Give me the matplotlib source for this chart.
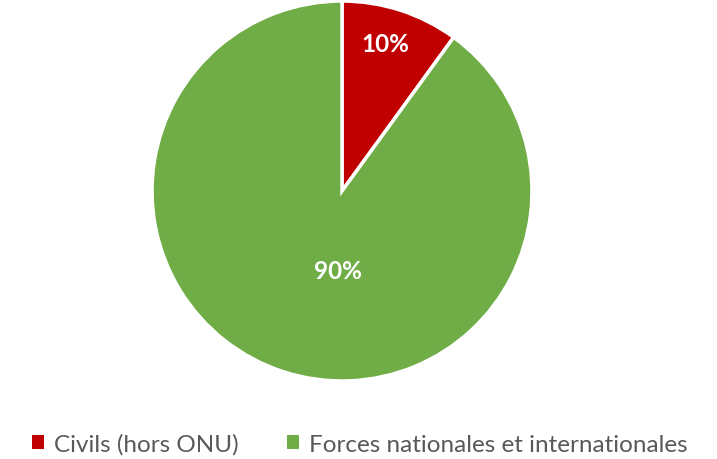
import matplotlib.pyplot as plt
from matplotlib.patches import Patch

plt.rcParams['font.family'] = ['Lato', 'DejaVu Sans']

categories = ['Civils (hors ONU)', 'Forces nationales et internationales']
values = [10, 90]
colors = ['#C00000', '#70AD47']

fig = plt.figure(figsize=(7.17, 4.6), dpi=100)
ax = fig.add_axes([0.212, 0.1696, 0.530, 0.826])

wedges, texts, autotexts = ax.pie(values, colors=colors, startangle=90, counterclock=False,
                                  autopct='%1.0f%%', pctdistance=0.6,
                                  wedgeprops=dict(edgecolor='white', linewidth=2.5),
                                  textprops=dict(color='white', fontsize=17.5, fontweight='bold'))
ax.set_xlim(-1, 1)
ax.set_ylim(-1, 1)
ax.set_aspect('equal')
# position percentages like the original
autotexts[0].set_position((0.226, 0.774))
autotexts[1].set_position((-0.02, -0.42))

handles = [Patch(facecolor=c, edgecolor='none') for c in colors]
fig.legend(handles, categories, loc='center', bbox_to_anchor=(0.502, 0.032), ncol=2,
           frameon=False, fontsize=17.5, handlelength=0.5, handleheight=0.5,
           handletextpad=0.4, columnspacing=2.0, labelcolor='#595959')

fig.savefig('out.png', dpi=100)
